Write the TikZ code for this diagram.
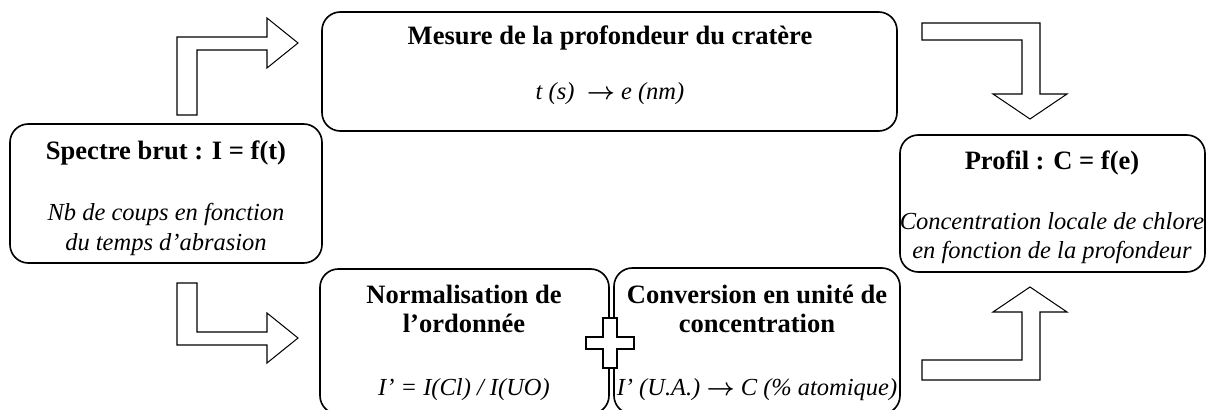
\documentclass[tikz,border=0pt]{standalone}
\usepackage{amsmath}
\usepackage{fontspec}
\setmainfont{Liberation Serif}
\usetikzlibrary{fit}

\newcommand{\fleche}{$\boldsymbol{\rightarrow}$}

\tikzset{
  box/.style={draw,line width=0.8pt,rounded corners=9pt,inner sep=0pt},
  titre/.style={font=\fontsize{13}{15}\selectfont\bfseries,anchor=base,inner sep=0pt},
  legende/.style={font=\fontsize{12}{14}\selectfont\itshape,anchor=base,inner sep=0pt},
  bloc/.style={draw,line width=0.5pt,fill=white}
}

\begin{document}
\begin{tikzpicture}[x=0.49pt,y=-0.49pt]
\useasboundingbox (0,0) rectangle (1208,410);

% --- boxes ---
\node[box,fit={(10,124) (322,263)}] (spectre) {};
\node[box,fit={(322,12) (897,131)}] (mesure) {};
\node[box,fit={(900,135) (1205,272)}] (profil) {};
\node[box,fit={(320,269) (609,414)}] (norm) {};
\node[box,fit={(614,268) (900,414)}] (conv) {};

% --- texts ---
\node[titre] (spectre-t) at (166,160) {Spectre brut : I = f(t)};
\node[legende] (spectre-1) at (166,221) {Nb de coups en fonction};
\node[legende] (spectre-2) at (166,251) {du temps d’abrasion};

\node[titre] (mesure-t) at (610,45) {Mesure de la profondeur du cratère};
\node[legende] (mesure-1) at (610,100) {t (s) \ \fleche\ e (nm)};

\node[titre] (profil-t) at (1052,170) {Profil : C = f(e)};
\node[legende] (profil-1) at (1052,230) {Concentration locale de chlore};
\node[legende] (profil-2) at (1052,259) {en fonction de la profondeur};

\node[titre] (norm-t1) at (464,304) {Normalisation de};
\node[titre] (norm-t2) at (464,333) {l’ordonnée};
\node[legende] (norm-1) at (464,396) {I’ = I(Cl) / I(UO)};

\node[titre] (conv-t1) at (757,304) {Conversion en unité de};
\node[titre] (conv-t2) at (757,333) {concentration};
\node[legende] (conv-1) at (757,396) {I’ (U.A.) \fleche\ C (\% atomique)};

% --- block arrows ---
\draw[bloc] (177,115) -- (177,37) -- (267,37) -- (267,18) -- (298,43) -- (267,68)
  -- (267,50) -- (197,50) -- (197,115) -- cycle;
\draw[bloc] (177,283) -- (197,283) -- (197,332) -- (267,332) -- (267,313) -- (298,338)
  -- (267,363) -- (267,345) -- (177,345) -- cycle;
\draw[bloc] (922,23) -- (1040,23) -- (1040,94) -- (1067,94) -- (1030,119) -- (993,94)
  -- (1022,94) -- (1022,40) -- (922,40) -- cycle;
\draw[bloc] (922,360) -- (1022,360) -- (1022,312) -- (993,312) -- (1030,287) -- (1067,312)
  -- (1040,312) -- (1040,380) -- (922,380) -- cycle;

% --- plus between the two steps ---
\draw[bloc,line width=1.2pt] (603,318) -- (617,318) -- (617,337) -- (634,337) -- (634,349)
  -- (617,349) -- (617,368) -- (603,368) -- (603,349) -- (586,349) -- (586,337)
  -- (603,337) -- cycle;
\end{tikzpicture}
\end{document}
